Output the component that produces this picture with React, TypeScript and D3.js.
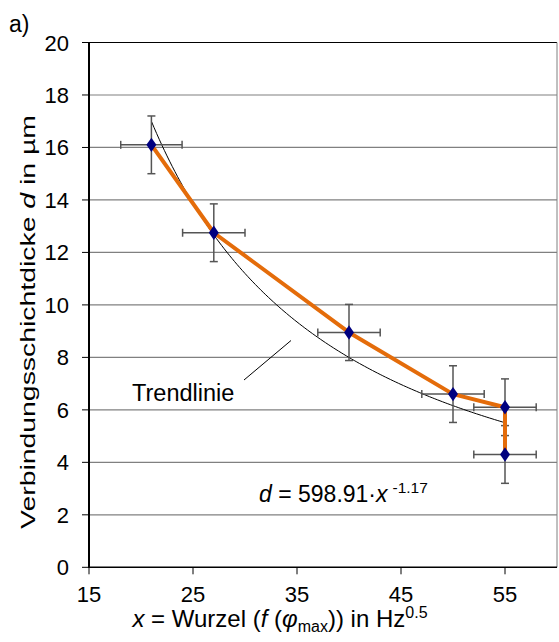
import React from "react";
import * as d3 from "d3";

const xValues = [21, 27, 40, 50, 55, 55];
const yValues = [16.1, 12.75, 8.95, 6.6, 6.1, 4.3];
const xErrors = [2.95, 3.0, 3.0, 3.0, 3.0, 3.0];
const yErrors = [1.1, 1.1, 1.07, 1.08, 1.08, 1.1];
const xTicks = [15, 25, 35, 45, 55];
const yTicks = [0, 2, 4, 6, 8, 10, 12, 14, 16, 18, 20];
const trendCoef = 598.91;
const trendExp = -1.17;
const trendRange = [21, 55];

const W = 559;
const H = 642;
const M = { left: 89, top: 42.5, right: 557, bottom: 567.3 };
const FONT = "'Liberation Sans', Arial, sans-serif";

export default function App() {
  const x = d3.scaleLinear().domain([15, 60]).range([M.left, M.right]);
  const y = d3.scaleLinear().domain([0, 20]).range([M.bottom, M.top]);

  const line = d3
    .line<number>()
    .x((_, i) => x(xValues[i]))
    .y((d) => y(d));

  const trendPts = d3.range(trendRange[0], trendRange[1] + 0.001, 0.25).map((v) => [v, trendCoef * Math.pow(v, trendExp)] as [number, number]);
  const trendLine = d3
    .line<[number, number]>()
    .x((d) => x(d[0]))
    .y((d) => y(d[1]))
    .curve(d3.curveMonotoneX);

  const diamond = d3.symbol(d3.symbolDiamond, 60)() as string;
  const errColor = "#555";

  return (
    <svg width={W} height={H} style={{ position: "absolute", left: 0, top: 0, background: "#fff" }} fontFamily={FONT}>
      {/* gridlines */}
      {yTicks.filter((t) => t > 0 && t < 20).map((t) => (
        <line key={t} x1={M.left} x2={M.right} y1={y(t)} y2={y(t)} stroke="#808080" strokeWidth={1.2} />
      ))}
      {/* frame */}
      <line x1={M.left} x2={M.right} y1={y(20)} y2={y(20)} stroke="#000" strokeWidth={1.2} />
      <line x1={M.right} x2={M.right} y1={M.top} y2={M.bottom} stroke="#808080" strokeWidth={1} />
      {/* trendline */}
      <path d={trendLine(trendPts) || ""} fill="none" stroke="#000" strokeWidth={1} />
      {/* error bars */}
      {xValues.map((xv, i) => {
        const yv = yValues[i];
        const cx = x(xv), cy = y(yv);
        const x0 = x(xv - xErrors[i]), x1 = x(xv + xErrors[i]);
        const y0 = y(yv - yErrors[i]), y1 = y(yv + yErrors[i]);
        return (
          <g key={i} stroke={errColor} strokeWidth={1.5}>
            <line x1={x0} x2={x1} y1={cy} y2={cy} />
            <line x1={x0} x2={x0} y1={cy - 4} y2={cy + 4} />
            <line x1={x1} x2={x1} y1={cy - 4} y2={cy + 4} />
            <line x1={cx} x2={cx} y1={y0} y2={y1} />
            <line x1={cx - 4} x2={cx + 4} y1={y0} y2={y0} />
            <line x1={cx - 4} x2={cx + 4} y1={y1} y2={y1} />
          </g>
        );
      })}
      {/* orange series line */}
      <path d={line(yValues) || ""} fill="none" stroke="#E46C0A" strokeWidth={4} strokeLinejoin="round" />
      {xValues.map((xv, i) => (
        <path key={i} d={diamond} transform={`translate(${x(xv)},${y(yValues[i])}) scale(1.2,1)`} fill="#000080" />
      ))}
      {/* axes */}
      <line x1={M.left} x2={M.left} y1={M.top} y2={M.bottom} stroke="#000" strokeWidth={2} />
      <line x1={M.left - 1} x2={M.right} y1={M.bottom} y2={M.bottom} stroke="#000" strokeWidth={1.5} />
      {yTicks.map((t) => (
        <g key={t}>
          <line x1={M.left - 7} x2={M.left} y1={y(t)} y2={y(t)} stroke="#000" strokeWidth={1} />
          <text x={69} y={y(t) + 8} textAnchor="end" fontSize={22} fill="#000">{t}</text>
        </g>
      ))}
      {xTicks.map((t) => (
        <g key={t}>
          <line x1={x(t)} x2={x(t)} y1={M.bottom} y2={M.bottom + 7} stroke="#000" strokeWidth={1} />
          <text x={x(t)} y={601.5} textAnchor="middle" fontSize={22} fill="#000">{t}</text>
        </g>
      ))}
      {/* axis titles */}
      <text transform={`translate(35,322) rotate(-90)`} textAnchor="middle" fontSize={21} fill="#000" textLength={414} lengthAdjust="spacingAndGlyphs">
        Verbindungsschichtdicke <tspan fontStyle="italic">d</tspan> in µm
      </text>
      <text x={280} y={627} textAnchor="middle" fontSize={24} fill="#000">
        <tspan fontStyle="italic">x</tspan> = Wurzel (<tspan fontStyle="italic">f</tspan> (<tspan fontStyle="italic">φ</tspan><tspan fontSize={16} dy={5}>max</tspan><tspan dy={-5}>)) in Hz</tspan><tspan fontSize={16} dy={-9}>0.5</tspan>
      </text>
      {/* annotations */}
      <text x={132} y={400.5} fontSize={23.5} fill="#000">Trendlinie</text>
      <line x1={244} y1={380} x2={291} y2={340.5} stroke="#000" strokeWidth={1} />
      <text x={259} y={501.5} fontSize={23} fill="#000">
        <tspan fontStyle="italic">d</tspan> = 598.91·<tspan fontStyle="italic">x</tspan><tspan fontSize={15.5} dx={5} dy={-9}>-1.17</tspan>
      </text>
      <text x={9} y={32} fontSize={23} fill="#000">a)</text>
    </svg>
  );
}
